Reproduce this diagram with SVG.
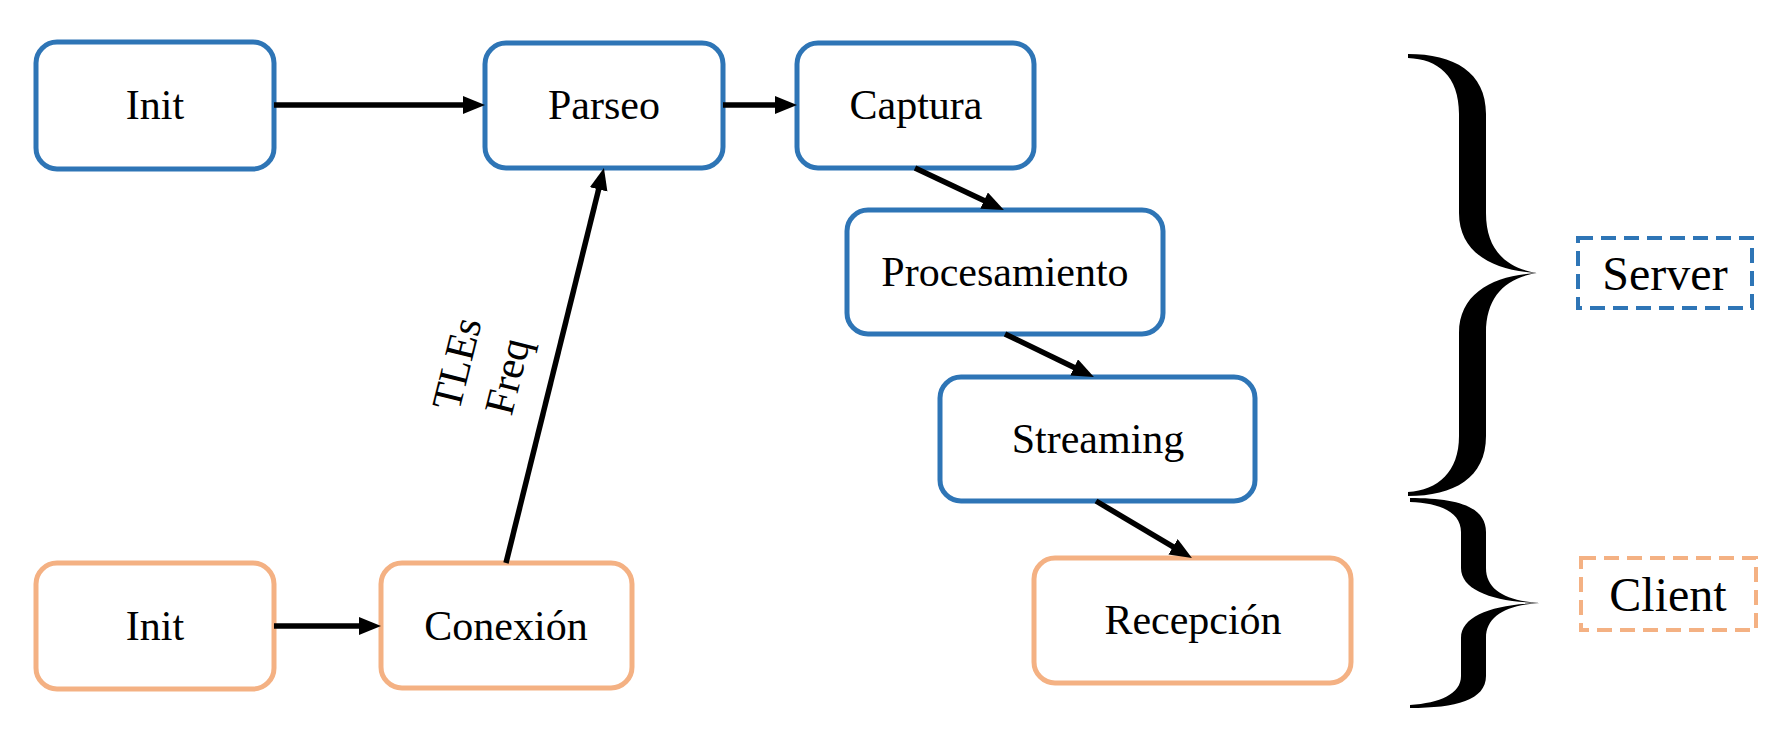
<svg xmlns="http://www.w3.org/2000/svg" width="1776" height="737" viewBox="0 0 1776 737">
<style>
.node rect{fill:#fff;stroke-width:5}
.srv rect{stroke:#2e75b6}
.cli rect{stroke:#f4b183}
text{font-family:"Liberation Serif","DejaVu Serif",serif;font-size:42px;fill:#000;text-anchor:middle}
.conn line{stroke:#000;stroke-width:5.5;marker-end:url(#ah)}
.grp rect{fill:none;stroke-width:4;stroke-dasharray:15 8}
.grp text{font-size:48px}
</style>
<defs>
<marker id="ah" markerUnits="userSpaceOnUse" markerWidth="24" markerHeight="20" viewBox="0 0 24 20" refX="11" refY="9" orient="auto">
<path d="M0,0 L22,9 L0,18 Z" fill="#000"/>
</marker>
</defs>
<rect width="1776" height="737" fill="#fff"/>

<g id="init-server" class="node srv"><rect x="36" y="42" width="238" height="127" rx="21"/><text x="155" y="119">Init</text></g>
<g id="parseo" class="node srv"><rect x="485" y="43" width="238" height="125" rx="21"/><text x="604" y="119">Parseo</text></g>
<g id="captura" class="node srv"><rect x="797" y="43" width="237" height="125" rx="21"/><text x="916" y="119">Captura</text></g>
<g id="procesamiento" class="node srv"><rect x="847" y="210" width="316" height="124" rx="21"/><text x="1005" y="286">Procesamiento</text></g>
<g id="streaming" class="node srv"><rect x="940" y="377" width="315" height="124" rx="21"/><text x="1098" y="453">Streaming</text></g>
<g id="recepcion" class="node cli"><rect x="1034" y="558" width="317" height="125" rx="21"/><text x="1193" y="634">Recepción</text></g>
<g id="init-client" class="node cli"><rect x="36" y="563" width="238" height="126" rx="21"/><text x="155" y="640">Init</text></g>
<g id="conexion" class="node cli"><rect x="381" y="563" width="251" height="125" rx="21"/><text x="506" y="640">Conexión</text></g>

<g id="connectors" class="conn">
<line x1="274" y1="105" x2="474" y2="105"/>
<line x1="723" y1="105" x2="786" y2="105"/>
<line x1="915" y1="168" x2="994" y2="205.3"/>
<line x1="1005" y1="334" x2="1084" y2="372.2"/>
<line x1="1096" y1="501" x2="1182.5" y2="552.4"/>
<line x1="274" y1="626" x2="370" y2="626"/>
<line x1="506" y1="563" x2="601.3" y2="178.7"/>
</g>
<g id="label-tles" transform="translate(482,370) rotate(-76)">
<text x="0" y="-12">TLEs</text>
<text x="0" y="40">Freq</text>
</g>

<g id="braces" fill="#000">
<path d="M1408,54 C1454,54 1486,72 1486,114 L1486,213 C1486,250 1506,268 1537,273 C1506,278 1486,296 1486,333 L1486,436 C1486,478 1454,496 1408,496 L1408,492 C1438,490 1459,472 1459,436 L1459,333 C1459,292 1495,275 1537,273 C1495,271 1459,254 1459,213 L1459,114 C1459,76 1438,59 1408,58 Z"/>
<path d="M1410,498 C1456,498 1486,506 1486,532 L1486,568 C1486,590 1506,601 1540,603 C1506,605 1486,616 1486,638 L1486,676 C1486,700 1456,708 1410,708 L1410,705 C1440,703 1461,694 1461,676 L1461,638 C1461,615 1495,604 1540,603 C1495,602 1461,591 1461,568 L1461,532 C1461,512 1440,503 1410,502 Z"/>
</g>

<g id="server-label" class="grp"><rect x="1578" y="238" width="174" height="70" stroke="#2e75b6"/><text x="1665" y="290">Server</text></g>
<g id="client-label" class="grp"><rect x="1581" y="558" width="175" height="72" stroke="#f4b183"/><text x="1668" y="611">Client</text></g>
</svg>
